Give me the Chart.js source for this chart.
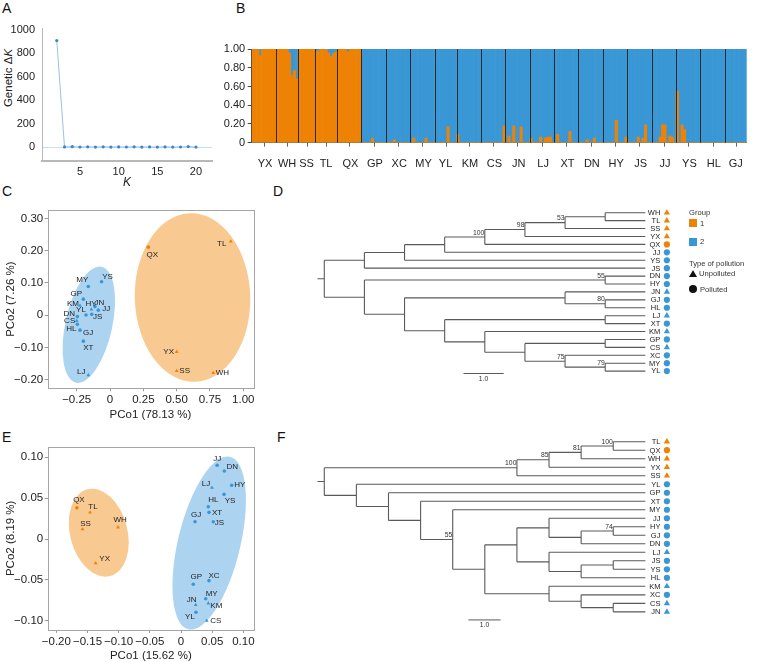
<!DOCTYPE html>
<html>
<head>
<meta charset="utf-8">
<script src="https://cdn.jsdelivr.net/npm/chart.js@4.4.1/dist/chart.umd.min.js"></script>
<style>
  body { margin: 0; background: #fff; width: 763px; height: 662px; position: relative; overflow: hidden;
         font-family: "Liberation Sans", Arial, sans-serif; }
  canvas { position: absolute; }
  .panel { position: absolute; font-size: 14px; line-height: 14px; color: #111; }
  .txt { position: absolute; font-size: 7.6px; line-height: 9px; color: #333; white-space: nowrap; }
  .sq { position: absolute; width: 8px; height: 8px; }
</style>
</head>
<body>
<div class="panel" style="left:2px;top:1px">A</div>
<div class="panel" style="left:236px;top:1px">B</div>
<div class="panel" style="left:2px;top:184px">C</div>
<div class="panel" style="left:273px;top:184px">D</div>
<div class="panel" style="left:2px;top:430px">E</div>
<div class="panel" style="left:277px;top:430px">F</div>

<div style="position:absolute;left:8px;top:78px;transform:translate(-50%,-50%) rotate(-90deg);font-size:11.5px;color:#222;white-space:nowrap">Genetic Δ<i>K</i></div>

<canvas id="chartA" width="225" height="180" style="left:0;top:15px"></canvas>
<canvas id="chartB" width="563" height="150" style="left:200px;top:30px"></canvas>
<canvas id="chartC" width="270" height="235" style="left:0;top:195px"></canvas>
<canvas id="chartE" width="270" height="233" style="left:0;top:430px"></canvas>
<canvas id="treeD" width="400" height="200" style="left:300px;top:195px"></canvas>
<canvas id="treeF" width="400" height="240" style="left:300px;top:420px"></canvas>

<!-- legend of D -->
<div class="txt" style="left:689px;top:208px">Group</div>
<div class="sq" style="left:689px;top:219px;background:#EE8204"></div>
<div class="txt" style="left:700px;top:218.5px">1</div>
<div class="sq" style="left:689px;top:237.5px;background:#3A97D5"></div>
<div class="txt" style="left:700px;top:237px">2</div>
<div class="txt" style="left:689px;top:259px">Type of pollution</div>
<div style="position:absolute;left:689px;top:269.5px;width:0;height:0;border-left:4px solid transparent;border-right:4px solid transparent;border-bottom:7px solid #111"></div>
<div class="txt" style="left:699px;top:269px">Unpolluted</div>
<div class="sq" style="left:689px;top:285px;background:#111;border-radius:50%"></div>
<div class="txt" style="left:700px;top:284.5px">Polluted</div>

<script>
// ---------------- data ----------------
// A: Evanno delta K
const kValues = [2, 3, 4, 5, 6, 7, 8, 9, 10, 11, 12, 13, 14, 15, 16, 17, 18, 19, 20];
const deltaK  = [906, 2.1, 4.3, 1.5, 2.8, 1.2, 3.1, 0.9, 2.2, 1.4, 2.6, 0.8, 1.9, 1.1, 2.4, 0.7, 1.3, 5.2, 0.6];
const kTicks = [5, 10, 15, 20];
const deltaKTicks = [0, 200, 400, 600, 800, 1000];

// B: STRUCTURE membership to cluster 1, one value per individual
const popNames = ['YX','WH','SS','TL','QX','GP','XC','MY','YL','KM','CS','JN','LJ','XT','DN','HY','JS','JJ','YS','HL','GJ'];
const clusterOne = [
  [1, 1, 1, 0.93, 1, 1, 1, 1, 1, 1],               // YX
  [1, 1, 1, 1, 1, 0.96, 0.72, 0.77, 0.68],         // WH
  [1, 1, 1, 1, 1, 1, 1],                           // SS
  [0.97, 0.98, 1, 1, 1, 0.96, 0.92, 0.95, 0.97],   // TL
  [1, 1, 1, 1, 0.97, 1, 1, 1, 1, 1],               // QX
  [0, 0, 0, 0, 0.05, 0, 0, 0, 0, 0],               // GP
  [0, 0, 0, 0.03, 0, 0, 0, 0, 0, 0],               // XC
  [0, 0.05, 0, 0, 0, 0, 0.05, 0, 0, 0],            // MY
  [0, 0, 0, 0, 0, 0.17, 0, 0, 0],                  // YL
  [0.09, 0, 0, 0, 0, 0, 0, 0, 0, 0],               // KM
  [0, 0, 0, 0, 0, 0, 0, 0, 0, 0.18],               // CS
  [0, 0.07, 0, 0.18, 0, 0, 0.17, 0, 0, 0],         // JN
  [0.05, 0, 0, 0, 0.06, 0, 0.05, 0.06, 0.06, 0],   // LJ
  [0, 0.09, 0, 0, 0, 0, 0.12, 0, 0, 0],            // XT
  [0, 0, 0, 0.03, 0, 0, 0.05, 0, 0, 0],            // DN
  [0, 0, 0, 0, 0, 0.24, 0, 0, 0, 0.06],            // HY
  [0, 0, 0, 0, 0.06, 0, 0.05, 0.19, 0, 0],         // JS
  [0, 0, 0, 0.06, 0.19, 0.19, 0, 0.07, 0.06, 0],   // JJ
  [0.55, 0, 0.19, 0.14, 0, 0, 0, 0, 0, 0],         // YS
  [0, 0, 0, 0, 0, 0, 0, 0, 0, 0],                  // HL
  [0, 0, 0, 0, 0, 0, 0, 0, 0]                      // GJ
];
const qTicks = [0, 0.2, 0.4, 0.6, 0.8, 1];
const qTickLabels = ['0', '0.20', '0.40', '0.60', '0.80', '1.00'];

// groups / pollution type
const groupOne = ['WH','TL','SS','YX','QX'];
const unpolluted = ['WH','TL','SS','YX','JN','LJ','KM','CS'];

// C: PCoA (all populations)
const popsC = ['QX','TL','YX','SS','WH','MY','YS','GP','KM','HY','JN','JJ','YL','JS','DN','CS','HL','GJ','XT','LJ'];
const pco1C = [0.287, 0.906, 0.500, 0.500, 0.775, -0.163, -0.063, -0.200, -0.225, -0.113, -0.140, -0.088, -0.180, -0.137, -0.245, -0.250, -0.245, -0.225, -0.200, -0.163];
const pco2C = [0.211, 0.229, -0.113, -0.172, -0.178, 0.089, 0.104, 0.050, 0.030, 0.027, 0.018, 0.016, 0.001, 0.003, -0.004, -0.017, -0.028, -0.046, -0.080, -0.185];
const pco1TicksC = [-0.25, 0, 0.25, 0.5, 0.75, 1];
const pco2TicksC = [-0.2, -0.1, 0, 0.1, 0.2, 0.3];

// E: PCoA (second marker set)
const popsE = ['QX','TL','SS','WH','YX','JJ','DN','HY','LJ','YS','HL','XT','GJ','JS','GP','XC','MY','KM','JN','YL','CS'];
const pco1E = [-0.167, -0.146, -0.158, -0.101, -0.137, 0.058, 0.0695, 0.0813, 0.0497, 0.069, 0.0438, 0.0449, 0.0225, 0.0518, 0.0197, 0.0449, 0.0396, 0.0438, 0.0236, 0.024, 0.0412];
const pco2E = [0.038, 0.0325, 0.012, 0.0143, -0.0296, 0.090, 0.083, 0.0655, 0.0626, 0.0545, 0.0394, 0.0325, 0.0211, 0.0211, -0.0552, -0.0508, -0.0728, -0.0784, -0.0805, -0.0894, -0.0996];
const pco1TicksE = [-0.2, -0.15, -0.1, -0.05, 0, 0.05, 0.1];
const pco2TicksE = [-0.1, -0.05, 0, 0.05, 0.1];

// D / F: cladograms (c = children, s = support)
const treeD = { c: [
  { c: [ { c: [ { c: [ { c: [ { c: [ { c: [ { c: ['WH','TL'] }, 'SS' ], s: '53' }, 'YX' ], s: '98' }, 'QX' ], s: '100' }, 'JJ' ] }, 'YS' ] }, 'JS' ] },
  { c: [ { c: ['DN','HY'], s: '55' },
         { c: [ { c: ['JN', { c: ['GJ','HL'], s: '80' }] },
                { c: [ { c: ['LJ','XT'] },
                       { c: ['KM', { c: [ { c: ['GP','CS'] }, { c: ['XC', { c: ['MY','YL'], s: '79' }], s: '75' } ] }] } ] } ] } ] }
] };
const treeF = { c: [
  { c: [ { c: [ { c: [ { c: ['TL','QX'], s: '100' }, 'WH' ], s: '81' }, 'YX' ], s: '85' }, 'SS' ], s: '100' },
  { c: ['YL', { c: ['GP', { c: ['XT', { c: ['MY',
      { c: [ { c: [ { c: ['JJ', { c: [ { c: ['HY','GJ'], s: '74' }, 'DN' ] }] },
                    { c: ['LJ', { c: [ { c: ['JS','YS'] }, 'HL' ] }] } ] },
             { c: ['KM', { c: ['XC', { c: ['CS','JN'] }] }] } ] } ], s: '55' } ] } ] } ] }
] };

// ---------------- styles ----------------
const ORANGE = '#EE8204', BLUE = '#3A97D5';
const FONT = '"Liberation Sans", Arial, sans-serif';
Chart.defaults.font.family = FONT;
Chart.defaults.color = '#222';
Chart.defaults.animation = false;
Chart.defaults.plugins.legend.display = false;
Chart.defaults.plugins.tooltip.enabled = false;

const groupColor = n => groupOne.includes(n) ? ORANGE : BLUE;
const shapeOf = n => unpolluted.includes(n) ? 'triangle' : 'circle';
const fmt = v => v === 0 ? '0' : (v < 0 ? '\u2212' : '') + Math.abs(v).toFixed(2);
const fixTicks = arr => s => { s.ticks = arr.map(v => ({ value: v })); };

// ---------------- A ----------------
new Chart(document.getElementById('chartA'), {
  type: 'scatter',
  data: { datasets: [{
    data: kValues.map((k, i) => ({ x: k, y: deltaK[i] })),
    showLine: true, borderColor: '#9cc0e6', borderWidth: 1,
    pointRadius: 1.6, pointBackgroundColor: '#3f86c8', pointBorderWidth: 0
  }] },
  options: {
    responsive: false, devicePixelRatio: 1,
    layout: { padding: { top: 12, right: 13 } },
    scales: {
      x: { type: 'linear', min: 0.09, max: 22.07, afterBuildTicks: fixTicks(kTicks), afterFit: s => { s.height = 34; },
           grid: { drawOnChartArea: false, drawTicks: false }, border: { color: '#b8b8b8', width: 2 },
           ticks: { font: { size: 11 }, padding: 4, callback: v => String(v) },
           title: { display: true, text: 'K', font: { size: 12, style: 'italic' }, padding: { top: 0, bottom: 5 } } },
      y: { min: -117.6, max: 1008, afterBuildTicks: fixTicks(deltaKTicks), afterFit: s => { s.width = 42; },
           grid: { drawTicks: false, color: c => (c.tick && c.tick.value === 0) ? 'rgba(150,195,235,0.55)' : 'transparent' },
           border: { color: '#b8b8b8', width: 1 },
           ticks: { font: { size: 11 }, padding: 7, callback: v => String(v) } }
    }
  }
});

// ---------------- B ----------------
const cluster1 = [], cluster2 = [], indivIdx = [];
const popRange = [], popCenter = new Map();
clusterOne.forEach((arr, p) => {
  const start = cluster1.length;
  popRange.push([start, start + arr.length - 1]);
  popCenter.set(start + Math.floor(arr.length / 2), popNames[p]);
  arr.forEach(q => { cluster1.push(q); cluster2.push(1 - q); indivIdx.push(String(indivIdx.length)); });
});
new Chart(document.getElementById('chartB'), {
  type: 'bar',
  data: { labels: indivIdx, datasets: [
    { data: cluster1, backgroundColor: ORANGE, barPercentage: 1, categoryPercentage: 1, borderWidth: 0 },
    { data: cluster2, backgroundColor: BLUE, barPercentage: 1, categoryPercentage: 1, borderWidth: 0 }
  ] },
  options: {
    responsive: false, devicePixelRatio: 1,
    layout: { padding: { top: 19, right: 16.3 } },
    scales: {
      x: { stacked: true, afterFit: s => { s.height = 37.3; },
           grid: { display: false },
           border: { color: '#777', width: 1 },
           ticks: { autoSkip: false, maxRotation: 0, font: { size: 11 }, padding: 6.5,
                    callback: (v, i) => popCenter.get(i) || '' } },
      y: { stacked: true, min: 0, max: 1, afterBuildTicks: fixTicks(qTicks), afterFit: s => { s.width = 51.7; },
           grid: { drawOnChartArea: false, tickLength: 4, color: '#444' },
           border: { color: '#444', width: 1 },
           ticks: { font: { size: 11 }, padding: 2.5, callback: v => qTickLabels[qTicks.indexOf(v)] } }
    }
  },
  plugins: [{
    id: 'popSeparators',
    afterDatasetsDraw(chart) {
      const { ctx, chartArea: a, scales: { x } } = chart;
      const half = (x.getPixelForValue(1) - x.getPixelForValue(0)) / 2;
      ctx.save();
      ctx.lineWidth = 1;
      ctx.strokeStyle = '#2b2b2b';
      ctx.beginPath();
      popRange.forEach(([s], p) => {
        if (p === 0) return;
        const px = Math.round(x.getPixelForValue(s) - half) + 0.5;
        ctx.moveTo(px, a.top); ctx.lineTo(px, a.bottom);
      });
      ctx.stroke();
      ctx.strokeStyle = '#666';
      ctx.beginPath();
      popRange.forEach(([s, e]) => {
        const px = Math.round((x.getPixelForValue(s) + x.getPixelForValue(e)) / 2) + 0.5;
        ctx.moveTo(px, a.bottom); ctx.lineTo(px, a.bottom + 4);
      });
      ctx.stroke();
      ctx.restore();
    }
  }]
});

// ---------------- C / E ----------------
const labelNudgeC = { QX:[4,8], TL:[-9,2], YX:[-8,0], SS:[8,0], WH:[9,0], MY:[-6,-7], YS:[6,-5], GP:[-7,-5], KM:[-7,-2],
  HY:[-4,-3], JN:[8,-7], JJ:[8,-1], YL:[-5,-5], JS:[6,2], DN:[-8,-3], CS:[-7,0], HL:[-6,4], GJ:[8,3], XT:[5,7], LJ:[-7,-3] };
const labelNudgeE = { QX:[2,-8], TL:[3,-6], SS:[3,-5], WH:[2,-7], YX:[9,-4], JJ:[0,-6], DN:[8,-4], HY:[8,-1], LJ:[-6,-4],
  YS:[6,6], HL:[5,-7], XT:[8,0], GJ:[1,-7], JS:[6,1], GP:[3,-7], XC:[5,-5], MY:[6,-5], KM:[8,3], JN:[-4,-5], YL:[-6,5], CS:[9,0] };
// ellipses: centre and two conjugate semi-axes, in data units
const ellipsesC = [
  { cx: 0.619, cy: 0.0551, ax: -0.0188, ay: 0.2607, bx: 0.4329, by: 0.0053, color: 'rgb(249,201,146)' },
  { cx: -0.159, cy: -0.029, ax: 0.096, ay: 0.1796, bx: 0.1718, by: -0.0155, color: 'rgb(172,212,241)' }
];
const ellipsesE = [
  { cx: -0.132, cy: 0.0077, ax: -0.0183, ay: 0.0529, bx: 0.0445, by: 0.0089, color: 'rgb(249,201,146)' },
  { cx: 0.0452, cy: -0.0049, ax: 0.0334, ay: 0.1052, bx: 0.0486, by: -0.0089, color: 'rgb(172,212,241)' }
];

function pcoaChart(id, pops, xs, ys, nudge, ellipses, cfg) {
  const shapes = pops.map(shapeOf);
  new Chart(document.getElementById(id), {
    type: 'scatter',
    data: { datasets: [{
      data: pops.map((p, i) => ({ x: xs[i], y: ys[i] })),
      pointStyle: shapes,
      pointRadius: shapes.map(s => s === 'triangle' ? 2.2 : 1.8),
      pointBackgroundColor: pops.map(groupColor), pointBorderWidth: 0
    }] },
    options: {
      responsive: false, devicePixelRatio: 1,
      layout: { padding: { top: cfg.padTop, right: cfg.padRight } },
      scales: {
        x: { type: 'linear', min: cfg.x[0], max: cfg.x[1], afterBuildTicks: fixTicks(cfg.xTicks), afterFit: s => { s.height = cfg.xH; },
             grid: { drawOnChartArea: false, tickLength: 3, color: '#999' }, border: { display: false },
             ticks: { font: { size: 11.5 }, padding: 2, autoSkip: false, maxRotation: 0, minRotation: 0, callback: fmt },
             title: { display: true, text: cfg.xTitle, font: { size: 11.5 }, padding: { top: 0, bottom: cfg.xTitlePad } } },
        y: { min: cfg.y[0], max: cfg.y[1], afterBuildTicks: fixTicks(cfg.yTicks), afterFit: s => { s.width = 47.7; },
             grid: { drawOnChartArea: false, tickLength: 3, color: '#999' }, border: { display: false },
             ticks: { font: { size: 11.5 }, padding: 1.5, autoSkip: false, callback: fmt },
             title: { display: true, text: cfg.yTitle, font: { size: 11.5 }, padding: { top: 3.6, bottom: 0 } } }
      }
    },
    plugins: [{
      id: 'ellipses',
      beforeDatasetsDraw(chart) {
        const { ctx, scales: { x, y } } = chart;
        ellipses.forEach(e => {
          const cx = x.getPixelForValue(e.cx), cy = y.getPixelForValue(e.cy);
          const ax = x.getPixelForValue(e.cx + e.ax) - cx, ay = y.getPixelForValue(e.cy + e.ay) - cy;
          const bx = x.getPixelForValue(e.cx + e.bx) - cx, by = y.getPixelForValue(e.cy + e.by) - cy;
          ctx.save();
          ctx.beginPath();
          ctx.save();
          ctx.transform(ax, ay, bx, by, cx, cy);
          ctx.arc(0, 0, 1, 0, Math.PI * 2);
          ctx.restore();
          ctx.fillStyle = e.color;
          ctx.fill();
          ctx.restore();
        });
      },
      afterDatasetsDraw(chart) {
        const { ctx, scales: { x, y } } = chart;
        ctx.save();
        ctx.font = '8px ' + FONT;
        ctx.fillStyle = '#222';
        ctx.textAlign = 'center';
        ctx.textBaseline = 'middle';
        pops.forEach((p, i) => {
          const d = nudge[p] || [0, -6];
          ctx.fillText(p, x.getPixelForValue(xs[i]) + d[0], y.getPixelForValue(ys[i]) + d[1]);
        });
        const a = chart.chartArea;
        ctx.strokeStyle = '#a5a5a5';
        ctx.lineWidth = 1;
        ctx.strokeRect(Math.round(a.left) + 0.5, Math.round(a.top) + 0.5, Math.round(a.right - a.left), Math.round(a.bottom - a.top));
        ctx.restore();
      }
    }]
  });
}

pcoaChart('chartC', popsC, pco1C, pco2C, labelNudgeC, ellipsesC, {
  padTop: 15, padRight: 16.7, xH: 41.7, xTitlePad: 7.8,
  x: [-0.4674, 1.0749], y: [-0.226, 0.326], xTicks: pco1TicksC, yTicks: pco2TicksC,
  xTitle: 'PCo1 (78.13 %)', yTitle: 'PCo2 (7.26 %)'
});
pcoaChart('chartE', popsE, pco1E, pco2E, labelNudgeE, ellipsesE, {
  padTop: 16.7, padRight: 16, xH: 33, xTitlePad: 0,
  x: [-0.2139, 0.1171], y: [-0.111, 0.1126], xTicks: pco1TicksE, yTicks: pco2TicksE,
  xTitle: 'PCo1 (15.62 %)', yTitle: 'PCo2 (8.19 %)'
});

// ---------------- D / F trees ----------------
function treeChart(id, root, cfg) {
  const height = n => typeof n === 'string' ? 0 : 1 + Math.max(...n.c.map(height));
  const H = height(root);
  const leaves = [], branches = [], supports = [];
  const gap = { x: NaN, y: NaN };
  function walk(n) {
    if (typeof n === 'string') { leaves.push(n); return { x: H, y: leaves.length - 1 }; }
    const kids = n.c.map(walk);
    const x = H - height(n);
    const y = (kids[0].y + kids[kids.length - 1].y) / 2;
    branches.push({ x, y: kids[0].y }, { x, y: kids[kids.length - 1].y }, gap);
    kids.forEach(k => branches.push({ x, y: k.y }, { x: k.x, y: k.y }, gap));
    if (n.s) supports.push({ x, y, t: n.s });
    return { x, y };
  }
  const r = walk(root);
  branches.push({ x: -cfg.stub, y: r.y }, { x: 0, y: r.y }, gap);
  const tipX = H + cfg.tipGap;

  new Chart(document.getElementById(id), {
    type: 'scatter',
    data: { datasets: [
      { data: branches, showLine: true, spanGaps: false, borderColor: '#5a5a5a', borderWidth: 1.1, pointRadius: 0 },
      { data: [{ x: cfg.bar[0], y: cfg.bar[1] }, { x: cfg.bar[0] + 1, y: cfg.bar[1] }], showLine: true,
        borderColor: '#5a5a5a', borderWidth: 1, pointRadius: 0 },
      { data: leaves.map((n, i) => ({ x: tipX, y: i })),
        pointStyle: leaves.map(shapeOf),
        pointRadius: leaves.map(n => shapeOf(n) === 'triangle' ? 3.6 : 3.1),
        pointBackgroundColor: leaves.map(groupColor), pointBorderWidth: 0 }
    ] },
    options: {
      responsive: false, devicePixelRatio: 1,
      layout: { padding: 0 },
      scales: {
        x: { type: 'linear', display: false, min: cfg.x[0], max: cfg.x[1] },
        y: { display: false, reverse: true, min: cfg.y[0], max: cfg.y[1] }
      }
    },
    plugins: [{
      id: 'treeText',
      afterDatasetsDraw(chart) {
        const { ctx, scales: { x, y } } = chart;
        ctx.save();
        ctx.fillStyle = '#222';
        ctx.font = '7.5px ' + FONT;
        ctx.textAlign = 'right';
        ctx.textBaseline = 'middle';
        leaves.forEach((n, i) => ctx.fillText(n, x.getPixelForValue(tipX) - 6.5, y.getPixelForValue(i) + 0.3));
        ctx.font = '6.8px ' + FONT;
        ctx.fillStyle = '#333';
        ctx.textBaseline = 'bottom';
        supports.forEach(s => ctx.fillText(s.t, x.getPixelForValue(s.x) - 0.5, y.getPixelForValue(s.y) - 0.8));
        ctx.textAlign = 'center';
        ctx.textBaseline = 'top';
        ctx.fillText('1.0', x.getPixelForValue(cfg.bar[0] + 0.5), y.getPixelForValue(cfg.bar[1]) + 2);
        ctx.restore();
      }
    }]
  });
}

treeChart('treeD', treeD, { x: [-0.5055, 9.263], y: [-1.733, 22.51], tipGap: 0.537, stub: 0.17, bar: [3.47, 20.3] });
treeChart('treeF', treeF, { x: [-0.632, 11.578], y: [-2.08, 25.19], tipGap: 0.672, stub: 0.21, bar: [4.49, 20.95] });
</script>
</body>
</html>
